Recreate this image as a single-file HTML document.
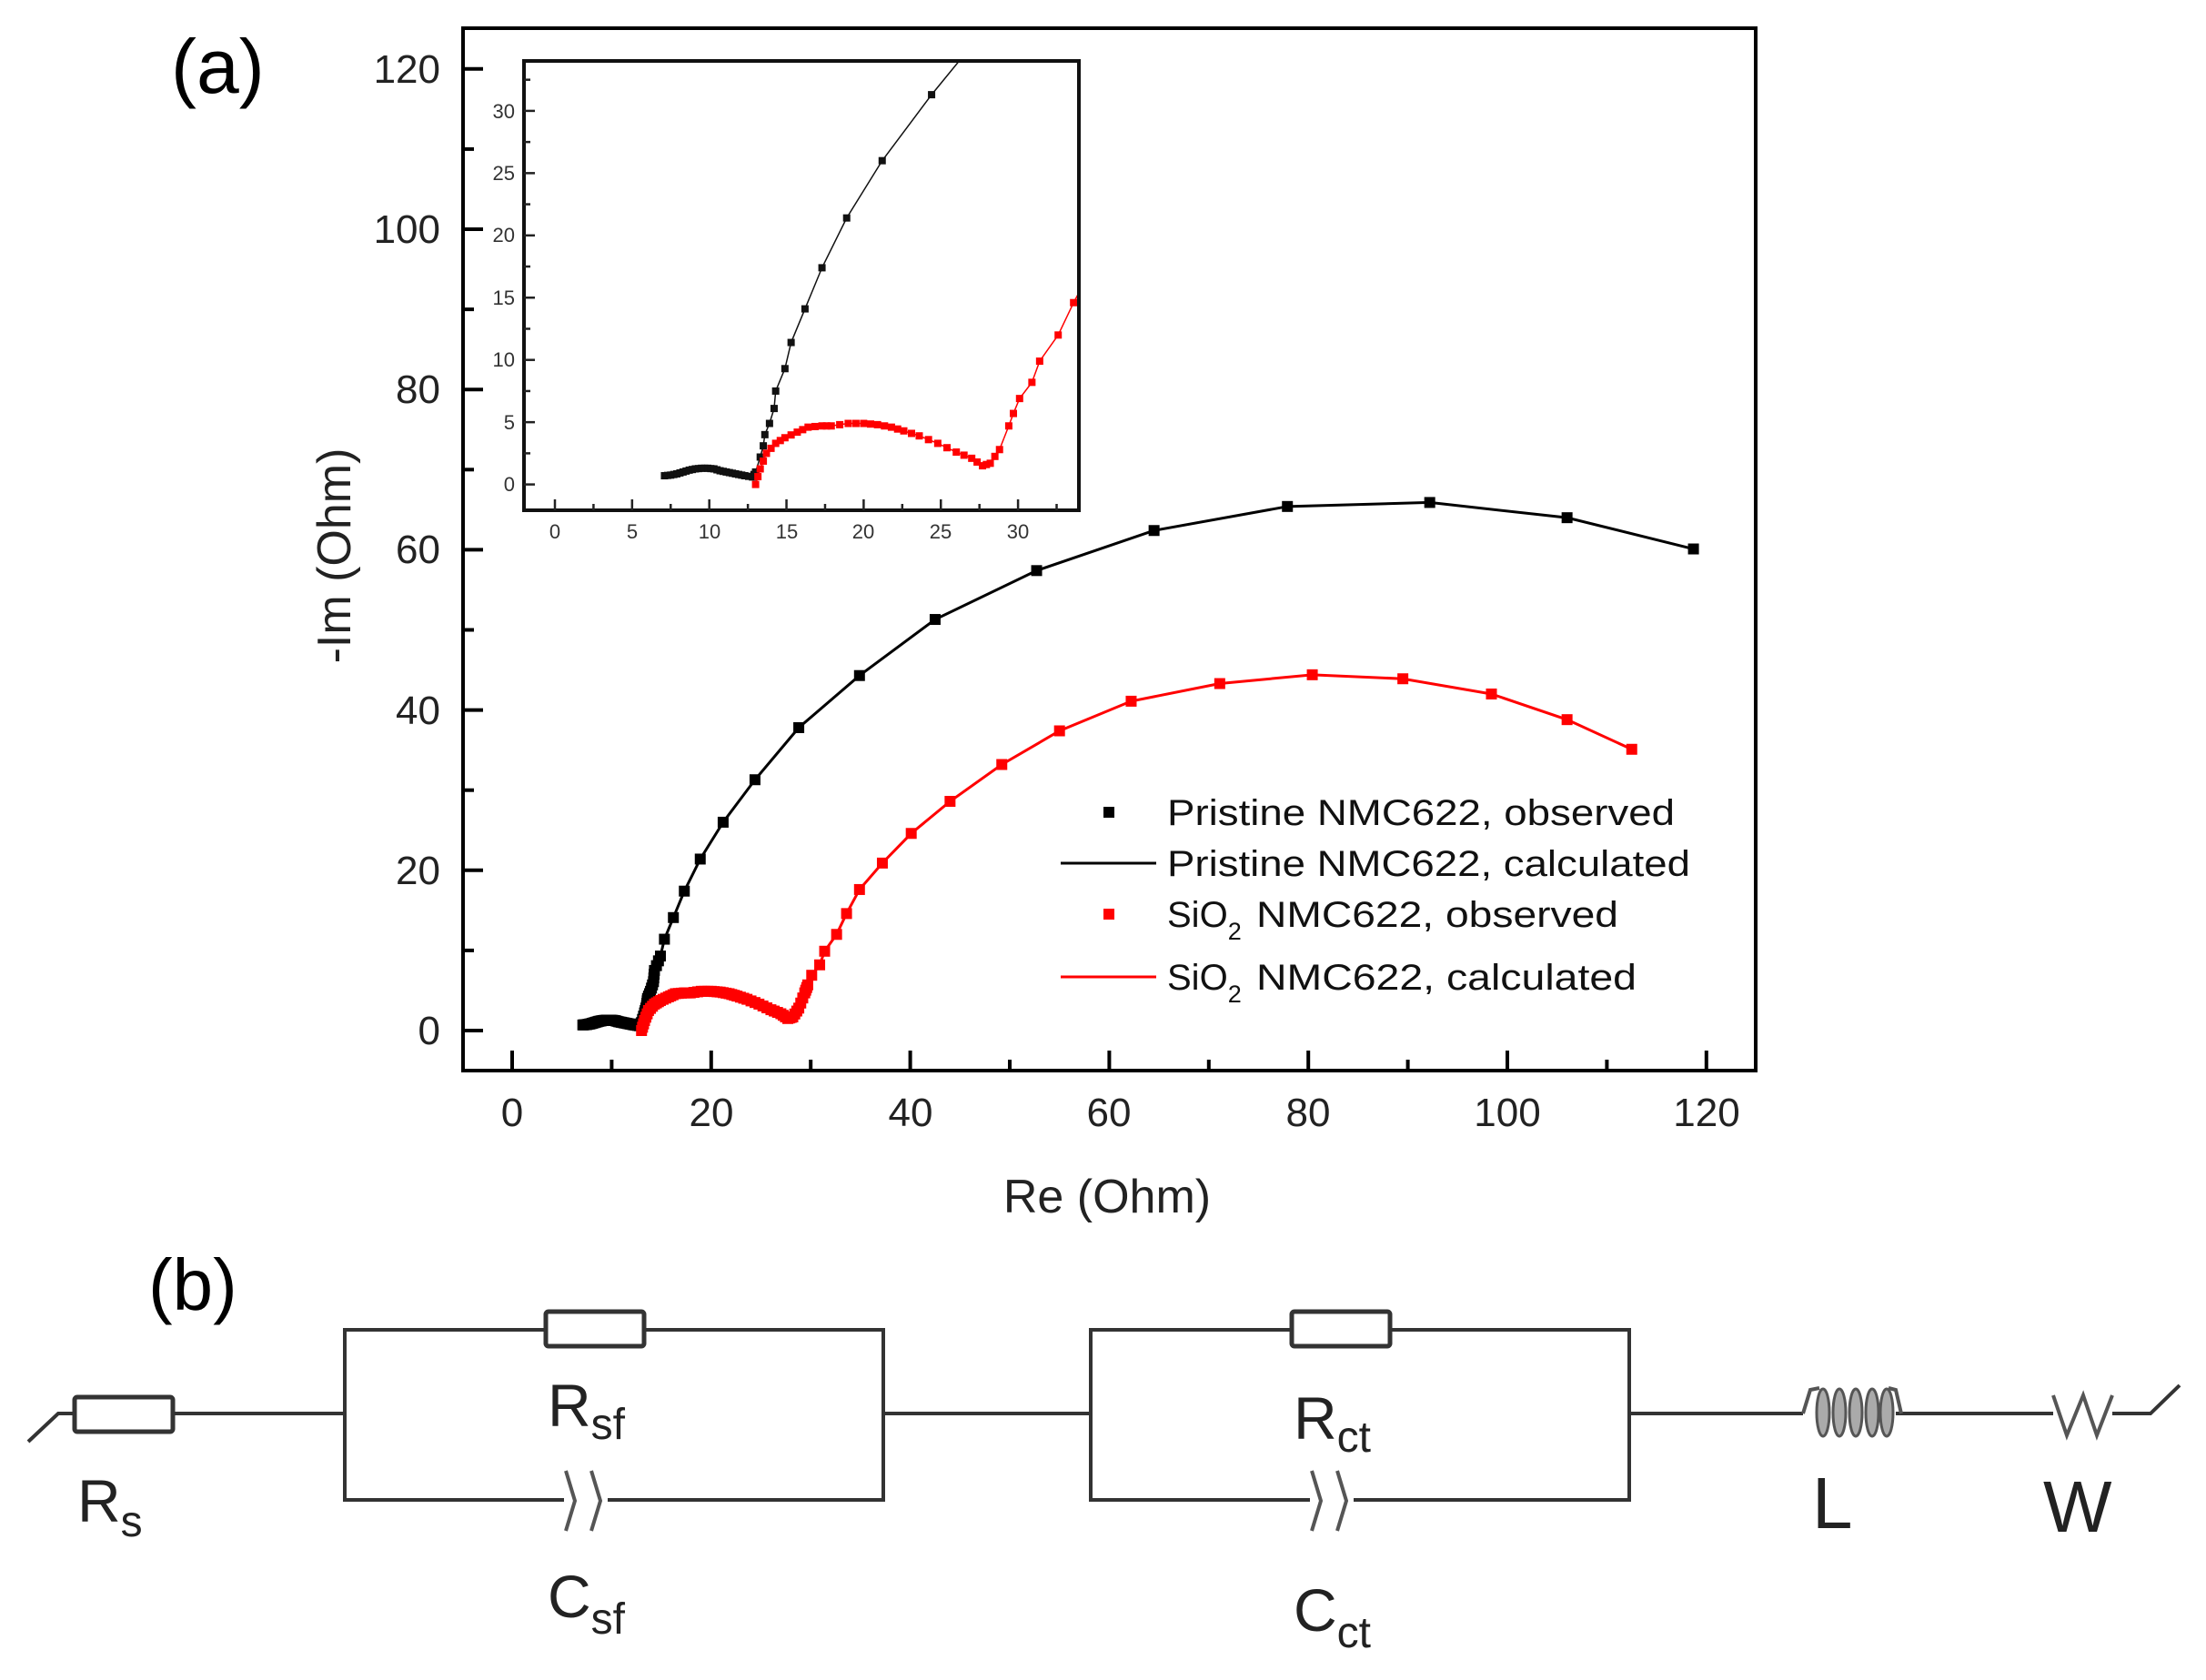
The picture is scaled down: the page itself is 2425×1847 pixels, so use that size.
<!DOCTYPE html>
<html><head><meta charset="utf-8"><style>
html,body{margin:0;padding:0;background:#fff;}
svg{display:block;}
text{font-family:"Liberation Sans",Arial,sans-serif;}
</style></head><body>
<svg id="s" width="2425" height="1847" viewBox="0 0 2425 1847" xmlns="http://www.w3.org/2000/svg">
<defs>
<clipPath id="ic"><rect x="578" y="69" width="606" height="490"/></clipPath>
<clipPath id="mc"><rect x="511" y="33" width="1417" height="1142"/></clipPath>
</defs>
<text x="188" y="102" font-size="84" fill="#000">(a)</text>
<rect x="509" y="31" width="1421" height="1146" fill="none" stroke="#000" stroke-width="4"/>
<g id="mainTicks" stroke="#000" stroke-width="4"></g>
<g font-size="44" fill="#222" text-anchor="middle">
<text x="563" y="1238">0</text><text x="782" y="1238">20</text><text x="1001" y="1238">40</text>
<text x="1219" y="1238">60</text><text x="1438" y="1238">80</text><text x="1657" y="1238">100</text><text x="1876" y="1238">120</text>
</g>
<g font-size="44" fill="#222" text-anchor="end">
<text x="484" y="1148">0</text><text x="484" y="972">20</text><text x="484" y="796">40</text>
<text x="484" y="619">60</text><text x="484" y="443">80</text><text x="484" y="267">100</text><text x="484" y="91">120</text>
</g>
<text x="1217" y="1333" font-size="52" fill="#222" text-anchor="middle">Re (Ohm)</text>
<text transform="translate(385,611) rotate(-90)" font-size="52" fill="#222" text-anchor="middle">-Im (Ohm)</text>
<g id="mainData" clip-path="url(#mc)"></g>
<rect x="576" y="67" width="610" height="494" fill="#fff" stroke="#111" stroke-width="4"/>
<g id="insetTicks" stroke="#222" stroke-width="2.5"></g>
<g font-size="22" fill="#333" text-anchor="middle">
<text x="610" y="592">0</text><text x="695" y="592">5</text><text x="780" y="592">10</text><text x="865" y="592">15</text>
<text x="949" y="592">20</text><text x="1034" y="592">25</text><text x="1119" y="592">30</text>
</g>
<g font-size="22" fill="#333" text-anchor="end">
<text x="566" y="540">0</text><text x="566" y="472">5</text><text x="566" y="403">10</text><text x="566" y="335">15</text>
<text x="566" y="266">20</text><text x="566" y="198">25</text><text x="566" y="130">30</text>
</g>
<g id="insetData" clip-path="url(#ic)"></g>
<rect x="1213" y="887" width="12" height="12" fill="#000"/>
<line x1="1166" y1="949" x2="1271" y2="949" stroke="#000" stroke-width="3"/>
<rect x="1213" y="999" width="12" height="12" fill="#f00"/>
<line x1="1166" y1="1074" x2="1271" y2="1074" stroke="#f00" stroke-width="3"/>
<g font-size="40" fill="#111">
<text x="1283" y="907" textLength="558" lengthAdjust="spacingAndGlyphs">Pristine NMC622, observed</text>
<text x="1283" y="963" textLength="575" lengthAdjust="spacingAndGlyphs">Pristine NMC622, calculated</text>
<text x="1283" y="1019">SiO<tspan font-size="27" dy="14">2</tspan></text>
<text x="1381" y="1019" textLength="398" lengthAdjust="spacingAndGlyphs">NMC622, observed</text>
<text x="1283" y="1088">SiO<tspan font-size="27" dy="14">2</tspan></text>
<text x="1381" y="1088" textLength="418" lengthAdjust="spacingAndGlyphs">NMC622, calculated</text>
</g>
<text x="163" y="1440" font-size="80" fill="#000">(b)</text>
<g stroke="#333" stroke-width="4" fill="none">
<polyline points="31,1585 64,1554 80,1554"/>
<line x1="192" y1="1554" x2="379" y2="1554"/>
<rect x="379" y="1462" width="592" height="187"/>
<line x1="971" y1="1554" x2="1199" y2="1554"/>
<rect x="1199" y="1462" width="592" height="187"/>
<line x1="1791" y1="1554" x2="1982" y2="1554"/>
<line x1="2084" y1="1554" x2="2257" y2="1554"/>
<polyline points="2322,1554 2364,1554 2396,1523"/>
</g>
<g fill="#fff" stroke="#333" stroke-width="5">
<rect x="82" y="1536" width="108" height="38" rx="3"/>
<rect x="600" y="1442" width="108" height="38" rx="3"/>
<rect x="1420" y="1442" width="108" height="38" rx="3"/>
</g>
<g fill="#fff" stroke="none">
<rect x="620" y="1640" width="48" height="20"/>
<rect x="1440" y="1640" width="48" height="20"/>
</g>
<g stroke="#555" stroke-width="4" fill="none">
<path d="M622,1617 L632,1650 L622,1683 M650,1617 L660,1650 L650,1683"/>
<path d="M1442,1617 L1452,1650 L1442,1683 M1470,1617 L1480,1650 L1470,1683"/>
<path d="M1982,1554 L1990,1528 L2000,1526 M2076,1526 L2084,1528 L2090,1554"/>
<path d="M2257,1534 L2272,1578 L2290,1534 L2305,1578 L2322,1534"/>
</g>
<g stroke="#555" stroke-width="3" fill="#aaa">
<ellipse cx="2004" cy="1553" rx="7" ry="26"/><ellipse cx="2022" cy="1553" rx="7" ry="26"/>
<ellipse cx="2040" cy="1553" rx="7" ry="26"/><ellipse cx="2058" cy="1553" rx="7" ry="26"/>
<ellipse cx="2074" cy="1553" rx="7" ry="26"/>
</g>
<g fill="#222" font-size="66">
<text x="85" y="1673">R<tspan font-size="48" dy="16">s</tspan></text>
<text x="602" y="1568">R<tspan font-size="48" dy="14">sf</tspan></text>
<text x="602" y="1778">C<tspan font-size="48" dy="18">sf</tspan></text>
<text x="1422" y="1582">R<tspan font-size="48" dy="14">ct</tspan></text>
<text x="1422" y="1793">C<tspan font-size="48" dy="18">ct</tspan></text>
<text x="1992" y="1680" font-size="80">L</text>
<text x="2246" y="1684" font-size="80">W</text>
</g>
</svg>
<script>
(function(){
var NS="http://www.w3.org/2000/svg";
function el(p,t,a){var e=document.createElementNS(NS,t);for(var k in a)e.setAttribute(k,a[k]);p.appendChild(e);return e;}
var black=[[7.1,0.7],[7.5,0.75],[7.9,0.85],[8.3,1.0],[8.7,1.15],[9.1,1.25],[9.5,1.3],[9.9,1.3],[10.3,1.25],[10.7,1.1],[11.1,1.0],[11.5,0.9],[11.9,0.8],[12.3,0.7],[12.8,0.6],[13,1],[13.3,2.2],[13.5,3.1],[13.6,4],[13.9,4.9],[14.2,6.1],[14.3,7.5],[14.9,9.3],[15.3,11.4],[16.2,14.1],[17.3,17.4],[18.9,21.4],[21.2,26],[24.4,31.3],[28.8,37.8],[34.9,44.3],[42.5,51.3],[52.7,57.4],[64.5,62.4],[77.9,65.4],[92.2,65.9],[106,64],[118.7,60.1]];
var red=[[13,0],[13.3,1.25],[13.7,2.5],[14.3,3.3],[14.9,3.75],[15.7,4.2],[16.4,4.6],[17.3,4.7],[17.9,4.7],[19,4.9],[20,4.9],[20.9,4.8],[21.8,4.6],[22.6,4.3],[23.6,3.9],[24.8,3.3],[26,2.6],[27,2.1],[27.7,1.5],[28.2,1.7],[28.8,2.8],[29.4,4.7],[29.7,5.7],[30.1,6.9],[30.9,8.2],[31.4,9.9],[32.6,12],[33.6,14.6],[34.9,17.6],[37.2,20.9],[40.1,24.6],[44,28.6],[49.2,33.2],[55,37.4],[62.2,41.1],[71.1,43.3],[80.4,44.4],[89.5,43.9],[98.4,42],[106,38.8],[112.5,35.1]];
function dens(d,xmax,n){var o=[];for(var i=0;i<d.length;i++){o.push(d[i]);if(i<d.length-1&&d[i+1][0]<=xmax){for(var k=1;k<=n;k++){var t=k/(n+1);o.push([d[i][0]+(d[i+1][0]-d[i][0])*t,d[i][1]+(d[i+1][1]-d[i][1])*t]);}}}return o;}
function draw(g,data,marks,col,fx,fy,ms,lw,extra){
  var pts=data.map(function(d){return fx(d[0])+","+fy(d[1]);});
  if(extra)pts.push(fx(extra[0])+","+fy(extra[1]));
  el(g,"polyline",{points:pts.join(" "),fill:"none",stroke:col,"stroke-width":lw});
  marks.forEach(function(d){el(g,"rect",{x:fx(d[0])-ms/2,y:fy(d[1])-ms/2,width:ms,height:ms,fill:col});});
}
var mx=function(v){return 563+v*10.94;}, my=function(v){return 1133-v*8.81;};
var ix=function(v){return 610+v*16.97;}, iy=function(v){return 532.6-v*13.69;};
var mg=document.getElementById("mainData"), ig=document.getElementById("insetData");
draw(mg,black,dens(black,15,2),"#000",mx,my,12,3);
draw(mg,red,dens(red,30,2),"#f00",mx,my,12,3);
var bi=black.slice(0,29), ri=red.slice(0,29);
draw(ig,bi,dens(bi,13.2,1),"#111",ix,iy,8,1.5,[27.5,36]);
draw(ig,ri,dens(ri,29,1),"#f00",ix,iy,8,1.5,[35,18]);
var mt=document.getElementById("mainTicks");
for(var v=0;v<=120;v+=10){var L=(v%20==0)?22:12;
  el(mt,"line",{x1:mx(v),y1:1177,x2:mx(v),y2:1177-L});
  el(mt,"line",{x1:509,y1:my(v),x2:509+L,y2:my(v)});}
var it=document.getElementById("insetTicks");
for(var v=0;v<=32.5;v+=2.5){var L=(v%5==0)?12:7;
  el(it,"line",{x1:ix(v),y1:561,x2:ix(v),y2:561-L});
  el(it,"line",{x1:576,y1:iy(v),x2:576+L,y2:iy(v)});}
})();
</script>
</body></html>
